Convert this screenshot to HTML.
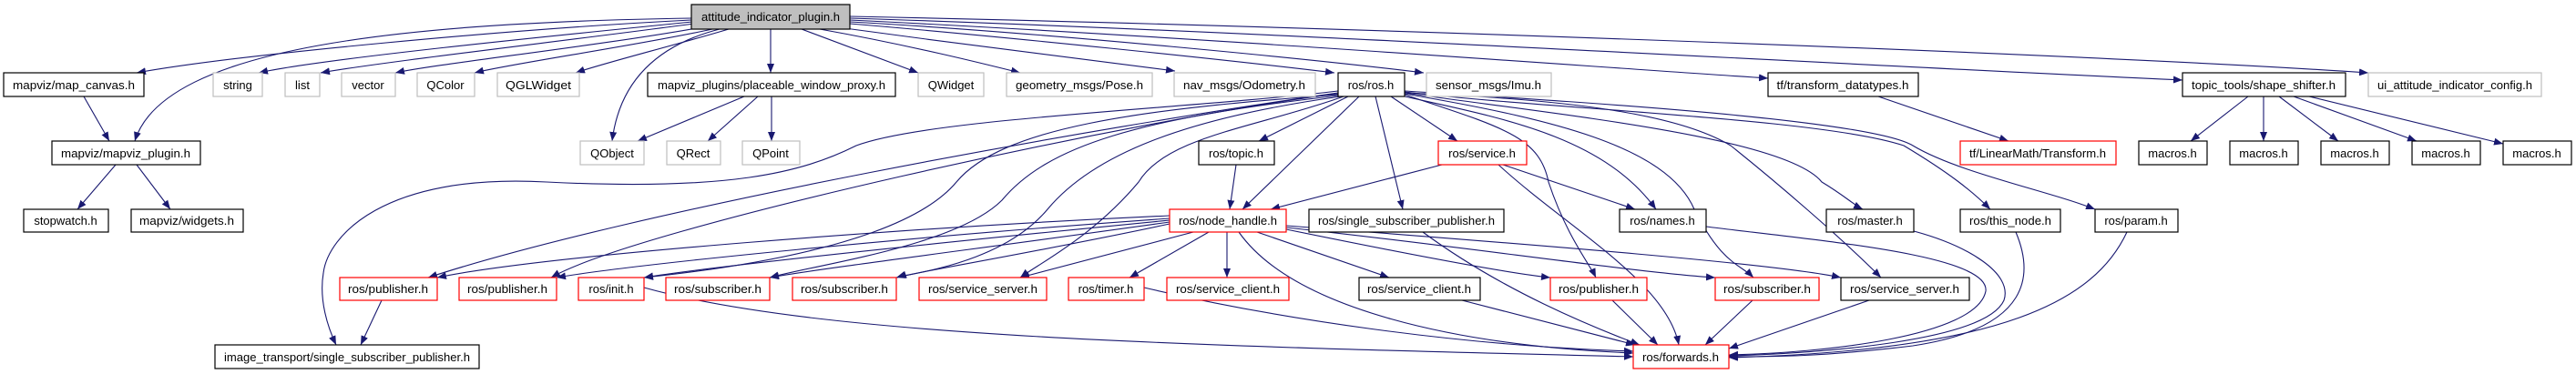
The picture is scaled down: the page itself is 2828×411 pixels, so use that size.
<!DOCTYPE html>
<html><head><meta charset="utf-8"><style>
html,body{margin:0;padding:0;background:#fff;}
svg{display:block;}
text{font-family:"Liberation Sans",sans-serif;font-size:13px;fill:#000;}
.e{fill:none;stroke:#191970;stroke-width:1.1;marker-end:url(#a);}
.n rect{fill:#fff;stroke:#000;stroke-width:1.2;}
.g rect{fill:#fff;stroke:#bfbfbf;stroke-width:1.2;}
.r rect{fill:#fff;stroke:#ff0000;stroke-width:1.2;}
</style></head><body>
<svg width="2828" height="411" viewBox="0 0 2828 411" xmlns="http://www.w3.org/2000/svg">
<defs><marker id="a" markerUnits="userSpaceOnUse" markerWidth="10" markerHeight="8" refX="10" refY="4" orient="auto"><path d="M0,0 L10,4 L0,8 z" fill="#191970"/></marker></defs>

<!-- root edges -->
<path class="e" d="M759,22 C560,32 260,60 150,80"/>
<path class="e" d="M760,24 C600,40 350,65 284,80"/>
<path class="e" d="M762,26 C620,45 420,68 352,80"/>
<path class="e" d="M770,30 C660,50 480,70 434,80"/>
<path class="e" d="M782,32 C700,50 560,70 521,80"/>
<path class="e" d="M800,32 C740,50 660,70 632,80"/>
<path class="e" d="M846,32 L846,80"/>
<path class="e" d="M759,20 C450,25 180,50 148,155"/>
<path class="e" d="M790,32 C720,50 680,90 672,155"/>
<path class="e" d="M880,32 L1008,80"/>
<path class="e" d="M900,32 C1000,50 1080,70 1120,80"/>
<path class="e" d="M920,30 C1050,48 1200,66 1290,78"/>
<path class="e" d="M933,26 C1100,40 1350,66 1465,80"/>
<path class="e" d="M933,24 C1150,36 1450,66 1563,80"/>
<path class="e" d="M933,22 C1300,40 1700,70 1941,86"/>
<path class="e" d="M933,20 C1400,35 2000,70 2396,88"/>
<path class="e" d="M933,18 C1500,30 2300,60 2600,80"/>

<path class="e" d="M92,106 L120,155"/>
<path class="e" d="M127,181 L85,230"/>
<path class="e" d="M150,181 L187,230"/>
<path class="e" d="M817,106 L700,155"/>
<path class="e" d="M832,106 L777,155"/>
<path class="e" d="M847,106 L847,155"/>
<path class="e" d="M2062,106 L2205,155"/>
<path class="e" d="M2468,106 L2405,155"/>
<path class="e" d="M2485,106 L2485,155"/>
<path class="e" d="M2502,106 L2567,155"/>
<path class="e" d="M2518,106 L2653,155"/>
<path class="e" d="M2535,106 L2748,158"/>
<path class="e" d="M419,330 L396,379"/>

<!-- ros.h edges -->
<path class="e" d="M1469,100 C1300,120 1020,130 940,160 C880,190 800,210 600,200 C420,190 360,260 355,300 C350,330 360,360 369,379"/>
<path class="e" d="M1469,102 C1200,140 700,230 470,305"/>
<path class="e" d="M1469,103 C1250,130 700,250 605,305"/>
<path class="e" d="M1469,104 C1250,120 1100,140 1050,200 C1000,260 850,290 707,305"/>
<path class="e" d="M1470,105 C1250,130 1150,160 1100,220 C1050,270 900,290 845,305"/>
<path class="e" d="M1472,106 C1300,130 1200,170 1150,230 C1100,290 1000,300 985,305"/>
<path class="e" d="M1475,106 C1380,140 1280,150 1250,200 C1200,260 1140,290 1120,305"/>
<path class="e" d="M1480,106 L1382,155"/>
<path class="e" d="M1492,106 L1364,230"/>
<path class="e" d="M1527,106 L1600,155"/>
<path class="e" d="M1510,106 L1540,230"/>
<path class="e" d="M1542,106 C1650,130 1760,150 1818,230"/>
<path class="e" d="M1542,104 C1650,140 1690,150 1700,200 C1720,260 1745,290 1752,305"/>
<path class="e" d="M1542,103 C1700,130 1830,160 1860,230 C1890,290 1910,290 1925,305"/>
<path class="e" d="M1542,102 C1700,125 1960,150 2000,200 C2025,215 2035,225 2045,230"/>
<path class="e" d="M1542,101 C1700,120 2000,130 2090,160 C2140,190 2165,210 2185,230"/>
<path class="e" d="M1542,100 C1700,110 2050,130 2100,160 C2150,190 2250,210 2300,230"/>
<path class="e" d="M1542,102 C1750,110 1850,130 1900,160 C1950,200 2020,260 2065,305"/>
<path class="e" d="M1357,181 L1350,230"/>
<path class="e" d="M1583,181 L1395,230"/>
<path class="e" d="M1650,181 L1795,230"/>
<path class="e" d="M1645,181 C1720,250 1830,310 1843,379"/>

<!-- node_handle edges -->
<path class="e" d="M1284,237 C1000,250 600,280 480,305"/>
<path class="e" d="M1284,240 C1000,260 700,290 611,305"/>
<path class="e" d="M1284,242 C1100,260 800,290 707,305"/>
<path class="e" d="M1284,244 C1100,270 900,295 845,305"/>
<path class="e" d="M1284,246 C1150,275 1000,300 984,305"/>
<path class="e" d="M1310,255 L1120,305"/>
<path class="e" d="M1327,255 L1240,305"/>
<path class="e" d="M1347,255 L1347,305"/>
<path class="e" d="M1380,255 L1525,305"/>
<path class="e" d="M1412,252 C1500,270 1650,300 1702,305"/>
<path class="e" d="M1412,250 C1600,270 1800,300 1883,305"/>
<path class="e" d="M1412,248 C1700,270 1950,290 2021,305"/>
<path class="e" d="M1360,255 C1420,340 1600,380 1793,388"/>

<!-- to forwards -->
<path class="e" d="M1562,255 C1650,320 1750,360 1800,379"/>
<path class="e" d="M1873,249 C2000,265 2185,280 2180,320 C2170,370 2000,388 1898,390"/>
<path class="e" d="M707,316 C900,370 1300,380 1793,392"/>
<path class="e" d="M1256,316 C1400,350 1600,380 1793,386"/>
<path class="e" d="M1605,330 L1795,379"/>
<path class="e" d="M1770,330 L1820,379"/>
<path class="e" d="M1924,330 L1872,379"/>
<path class="e" d="M2052,330 L1898,383"/>
<path class="e" d="M2101,254 C2160,270 2210,300 2200,330 C2180,375 2000,388 1898,391"/>
<path class="e" d="M2213,255 C2232,300 2232,360 2100,380 C2000,392 1950,392 1898,392"/>
<path class="e" d="M2335,255 C2300,330 2200,385 1898,393"/>

<!-- nodes -->
<g><rect x="759" y="5" width="174" height="27" fill="#bfbfbf" stroke="#000" stroke-width="1.2"/><text x="846" y="23" text-anchor="middle" textLength="152" lengthAdjust="spacingAndGlyphs">attitude_indicator_plugin.h</text></g>

<g class="n"><rect x="4" y="80" width="154" height="26"/><text x="81" y="98" text-anchor="middle" textLength="134" lengthAdjust="spacingAndGlyphs">mapviz/map_canvas.h</text></g>
<g class="g"><rect x="234" y="80" width="54" height="26"/><text x="261" y="98" text-anchor="middle">string</text></g>
<g class="g"><rect x="313" y="80" width="38" height="26"/><text x="332" y="98" text-anchor="middle">list</text></g>
<g class="g"><rect x="375" y="80" width="59" height="26"/><text x="404" y="98" text-anchor="middle">vector</text></g>
<g class="g"><rect x="458" y="80" width="63" height="26"/><text x="489" y="98" text-anchor="middle">QColor</text></g>
<g class="g"><rect x="546" y="80" width="90" height="26"/><text x="591" y="98" text-anchor="middle" textLength="72" lengthAdjust="spacingAndGlyphs">QGLWidget</text></g>
<g class="n"><rect x="711" y="80" width="272" height="26"/><text x="847" y="98" text-anchor="middle" textLength="250" lengthAdjust="spacingAndGlyphs">mapviz_plugins/placeable_window_proxy.h</text></g>
<g class="g"><rect x="1008" y="80" width="72" height="26"/><text x="1044" y="98" text-anchor="middle">QWidget</text></g>
<g class="g"><rect x="1105" y="80" width="160" height="26"/><text x="1185" y="98" text-anchor="middle" textLength="140" lengthAdjust="spacingAndGlyphs">geometry_msgs/Pose.h</text></g>
<g class="g"><rect x="1289" y="80" width="155" height="26"/><text x="1366" y="98" text-anchor="middle" textLength="134" lengthAdjust="spacingAndGlyphs">nav_msgs/Odometry.h</text></g>
<g class="n"><rect x="1469" y="80" width="73" height="26"/><text x="1505" y="98" text-anchor="middle">ros/ros.h</text></g>
<g class="g"><rect x="1566" y="80" width="137" height="26"/><text x="1634" y="98" text-anchor="middle" textLength="116" lengthAdjust="spacingAndGlyphs">sensor_msgs/Imu.h</text></g>
<g class="n"><rect x="1941" y="80" width="165" height="26"/><text x="2023" y="98" text-anchor="middle" textLength="145" lengthAdjust="spacingAndGlyphs">tf/transform_datatypes.h</text></g>
<g class="n"><rect x="2396" y="80" width="179" height="26"/><text x="2485" y="98" text-anchor="middle" textLength="158" lengthAdjust="spacingAndGlyphs">topic_tools/shape_shifter.h</text></g>
<g class="g"><rect x="2600" y="80" width="190" height="26"/><text x="2695" y="98" text-anchor="middle" textLength="170" lengthAdjust="spacingAndGlyphs">ui_attitude_indicator_config.h</text></g>

<g class="n"><rect x="57" y="155" width="163" height="26"/><text x="138" y="173" text-anchor="middle" textLength="142" lengthAdjust="spacingAndGlyphs">mapviz/mapviz_plugin.h</text></g>
<g class="g"><rect x="637" y="155" width="70" height="26"/><text x="672" y="173" text-anchor="middle">QObject</text></g>
<g class="g"><rect x="732" y="155" width="59" height="26"/><text x="761" y="173" text-anchor="middle">QRect</text></g>
<g class="g"><rect x="815" y="155" width="63" height="26"/><text x="846" y="173" text-anchor="middle">QPoint</text></g>
<g class="n"><rect x="1316" y="155" width="83" height="26"/><text x="1357" y="173" text-anchor="middle">ros/topic.h</text></g>
<g class="r"><rect x="1579" y="155" width="97" height="26"/><text x="1627" y="173" text-anchor="middle">ros/service.h</text></g>
<g class="r"><rect x="2152" y="155" width="171" height="26"/><text x="2237" y="173" text-anchor="middle" textLength="150" lengthAdjust="spacingAndGlyphs">tf/LinearMath/Transform.h</text></g>
<g class="n"><rect x="2348" y="155" width="75" height="26"/><text x="2385" y="173" text-anchor="middle">macros.h</text></g>
<g class="n"><rect x="2448" y="155" width="75" height="26"/><text x="2485" y="173" text-anchor="middle">macros.h</text></g>
<g class="n"><rect x="2548" y="155" width="75" height="26"/><text x="2585" y="173" text-anchor="middle">macros.h</text></g>
<g class="n"><rect x="2648" y="155" width="75" height="26"/><text x="2685" y="173" text-anchor="middle">macros.h</text></g>
<g class="n"><rect x="2748" y="155" width="75" height="26"/><text x="2785" y="173" text-anchor="middle">macros.h</text></g>

<g class="n"><rect x="26" y="230" width="93" height="25"/><text x="72" y="247" text-anchor="middle">stopwatch.h</text></g>
<g class="n"><rect x="144" y="230" width="123" height="25"/><text x="205" y="247" text-anchor="middle" textLength="104" lengthAdjust="spacingAndGlyphs">mapviz/widgets.h</text></g>
<g class="r"><rect x="1284" y="230" width="128" height="25"/><text x="1348" y="247" text-anchor="middle" textLength="108" lengthAdjust="spacingAndGlyphs">ros/node_handle.h</text></g>
<g class="n"><rect x="1437" y="230" width="214" height="25"/><text x="1544" y="247" text-anchor="middle" textLength="194" lengthAdjust="spacingAndGlyphs">ros/single_subscriber_publisher.h</text></g>
<g class="n"><rect x="1778" y="230" width="95" height="25"/><text x="1825" y="247" text-anchor="middle">ros/names.h</text></g>
<g class="n"><rect x="2005" y="230" width="96" height="25"/><text x="2053" y="247" text-anchor="middle">ros/master.h</text></g>
<g class="n"><rect x="2152" y="230" width="110" height="25"/><text x="2207" y="247" text-anchor="middle" textLength="90" lengthAdjust="spacingAndGlyphs">ros/this_node.h</text></g>
<g class="n"><rect x="2300" y="230" width="91" height="25"/><text x="2345" y="247" text-anchor="middle">ros/param.h</text></g>

<g class="r"><rect x="373" y="305" width="107" height="25"/><text x="426" y="322" text-anchor="middle" textLength="88" lengthAdjust="spacingAndGlyphs">ros/publisher.h</text></g>
<g class="r"><rect x="504" y="305" width="107" height="25"/><text x="557" y="322" text-anchor="middle" textLength="88" lengthAdjust="spacingAndGlyphs">ros/publisher.h</text></g>
<g class="r"><rect x="635" y="305" width="72" height="25"/><text x="671" y="322" text-anchor="middle">ros/init.h</text></g>
<g class="r"><rect x="731" y="305" width="114" height="25"/><text x="788" y="322" text-anchor="middle" textLength="96" lengthAdjust="spacingAndGlyphs">ros/subscriber.h</text></g>
<g class="r"><rect x="870" y="305" width="114" height="25"/><text x="927" y="322" text-anchor="middle" textLength="96" lengthAdjust="spacingAndGlyphs">ros/subscriber.h</text></g>
<g class="r"><rect x="1009" y="305" width="140" height="25"/><text x="1079" y="322" text-anchor="middle" textLength="120" lengthAdjust="spacingAndGlyphs">ros/service_server.h</text></g>
<g class="r"><rect x="1173" y="305" width="83" height="25"/><text x="1214" y="322" text-anchor="middle">ros/timer.h</text></g>
<g class="r"><rect x="1281" y="305" width="134" height="25"/><text x="1348" y="322" text-anchor="middle" textLength="114" lengthAdjust="spacingAndGlyphs">ros/service_client.h</text></g>
<g class="n"><rect x="1492" y="305" width="133" height="25"/><text x="1558" y="322" text-anchor="middle" textLength="114" lengthAdjust="spacingAndGlyphs">ros/service_client.h</text></g>
<g class="r"><rect x="1702" y="305" width="106" height="25"/><text x="1755" y="322" text-anchor="middle" textLength="88" lengthAdjust="spacingAndGlyphs">ros/publisher.h</text></g>
<g class="r"><rect x="1883" y="305" width="114" height="25"/><text x="1940" y="322" text-anchor="middle" textLength="96" lengthAdjust="spacingAndGlyphs">ros/subscriber.h</text></g>
<g class="n"><rect x="2021" y="305" width="141" height="25"/><text x="2091" y="322" text-anchor="middle" textLength="120" lengthAdjust="spacingAndGlyphs">ros/service_server.h</text></g>

<g class="n"><rect x="236" y="379" width="290" height="26"/><text x="381" y="397" text-anchor="middle" textLength="270" lengthAdjust="spacingAndGlyphs">image_transport/single_subscriber_publisher.h</text></g>
<g class="r"><rect x="1793" y="379" width="105" height="26"/><text x="1845" y="397" text-anchor="middle" textLength="84" lengthAdjust="spacingAndGlyphs">ros/forwards.h</text></g>
</svg>
</body></html>
